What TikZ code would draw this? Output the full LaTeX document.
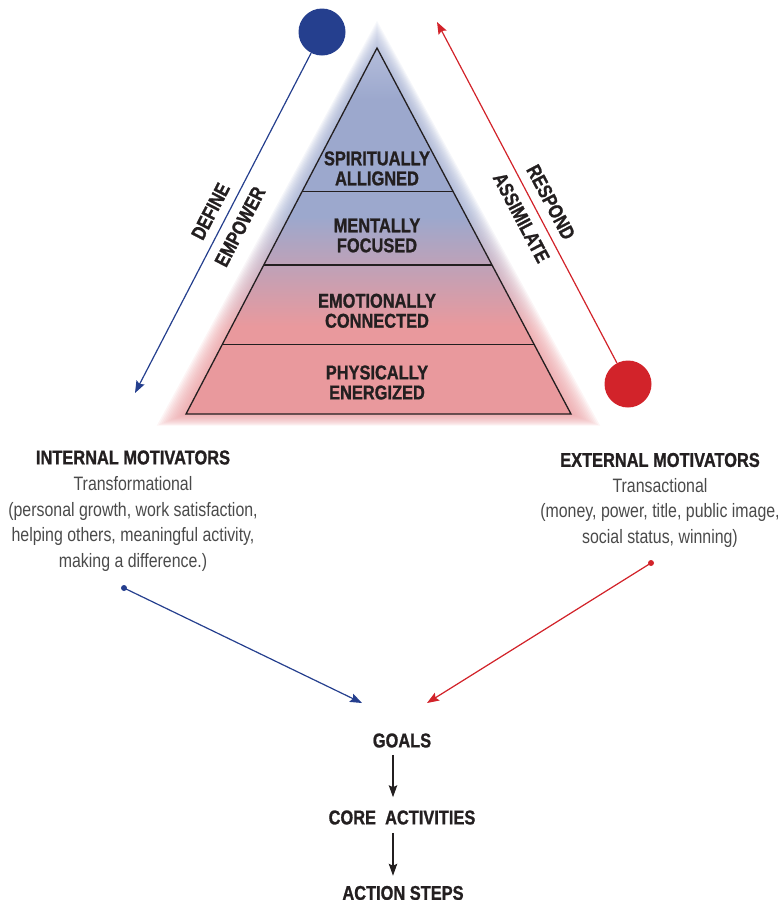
\documentclass[tikz,border=0pt]{standalone}
\usepackage{fontspec}
\setmainfont{Liberation Sans}[FakeStretch=0.82, BoldFeatures={FakeBold=1}]
\usetikzlibrary{arrows.meta,calc,positioning}
\definecolor{navy}{HTML}{253F8E}
\definecolor{crimson}{HTML}{D2232A}
\definecolor{pyrblue}{HTML}{9CA8CD}
\definecolor{pyrpale}{HTML}{B4BDDB}
\definecolor{pyrpink}{HTML}{E9999D}
\definecolor{ink}{HTML}{231F20}
\definecolor{soft}{HTML}{4A4A4A}
\pgfdeclareverticalshading{pyrshade}{100bp}{color(0bp)=(pyrpink); color(37bp)=(pyrpink); color(52bp)=(pyrblue); color(68bp)=(pyrblue); color(75bp)=(pyrpale); color(100bp)=(pyrpale)}
\tikzset{
  head/.style={font=\fontsize{20}{20}\selectfont\bfseries, text=ink, align=center, inner sep=0pt},
  body/.style={font=\fontsize{19.4}{25.5}\selectfont, text=soft, align=center, inner sep=0pt},
  tag/.style={font=\fontsize{20}{20}\selectfont\bfseries, text=ink, inner sep=0pt, sloped},
  ring/.style={circle, minimum size=47pt, inner sep=0pt},
  dot/.style={circle, minimum size=6pt, inner sep=0pt},
  tip/.style={-{Stealth[length=12pt,width=9pt,inset=2pt]}, line width=1.2pt},
  flow/.style={-{Stealth[length=12pt,width=8.5pt,inset=2pt]}, line width=1.2pt, ink},
}
\begin{document}
\begin{tikzpicture}[x=1pt,y=-1pt]
	\useasboundingbox (0,0) rectangle (780,900);
	% pyramid with its glow
	\coordinate (apex) at (377,48);
	\coordinate (bl) at (186,414);
	\coordinate (br) at (571,414);
	\foreach \d in {1.5,3,...,19.5}
		\shade[shading=pyrshade, opacity=.1] (377,{48-1.4*\d}) -- ({186-1.5*\d},{414+.6*\d}) -- ({571+1.5*\d},{414+.6*\d}) -- cycle;
	\shade[shading=pyrshade] (apex) -- (bl) -- (br) -- cycle;
	\draw[line width=1.3pt, ink, line join=miter] (apex) -- (bl) -- (br) -- cycle;
	\foreach \f in {.393,.593,.811}
		\draw[line width=1.1pt, ink] ($(apex)!\f!(bl)$) -- ($(apex)!\f!(br)$);
	\node[head] (spirit) at (377,168.4) {SPIRITUALLY\\ALLIGNED};
	\node[head] (mental) at (377,235.5) {MENTALLY\\FOCUSED};
	\node[head] (emotion) at (377,310.8) {EMOTIONALLY\\CONNECTED};
	\node[head] (body) at (377,382.5) {PHYSICALLY\\ENERGIZED};
	% side arrows
	\node[ring, fill=navy] (bluering) at (322,32) {};
	\coordinate (bluetip) at (135,393);
	\draw[navy, tip] (bluering) -- (bluetip)
		node[tag, pos=.488, above=9pt] (define) {DEFINE}
		node[tag, pos=.488, below=9pt] (empower) {EMPOWER};
	\node[ring, fill=crimson] (redring) at (628,384) {};
	\coordinate (redtip) at (437,22);
	\draw[crimson, tip] (redring) -- (redtip)
		node[tag, pos=.449, above=9pt] (respond) {RESPOND}
		node[tag, pos=.449, below=9pt] (assim) {ASSIMILATE};
	% motivators
	\node[head] (intmot) at (133,457.5) {INTERNAL MOTIVATORS};
	\node[body] (intwhy) at (133,524) {Transformational\\(personal growth, work satisfaction,\\helping others, meaningful activity,\\making a difference.)};
	\node[head] (extmot) at (660,460) {EXTERNAL MOTIVATORS};
	\node[body] (extwhy) at (660,512.8) {Transactional\\(money, power, title, public image,\\social status, winning)};
	\node[dot, fill=navy] (intdot) at (124,588) {};
	\coordinate (intin) at (362,703);
	\draw[navy, tip] (intdot.center) -- (intin);
	\node[dot, fill=crimson] (extdot) at (651,563) {};
	\coordinate (extin) at (427,703);
	\draw[crimson, tip] (extdot.center) -- (extin);
	% goals chain
	\node[head] (goals) at (402,740.5) {GOALS};
	\node[head] (core) at (402,817.5) {CORE\ \ ACTIVITIES};
	\node[head] (steps) at (403,893) {ACTION STEPS};
	\draw[flow, shorten <=7pt, shorten >=13pt] ([xshift=-9pt]goals.south) -- ([xshift=-9pt]goals.south |- core.north);
	\draw[flow, shorten <=8pt, shorten >=10pt] ([xshift=-9pt]core.south) -- ([xshift=-9pt]core.south |- steps.north);
\end{tikzpicture}
\end{document}
